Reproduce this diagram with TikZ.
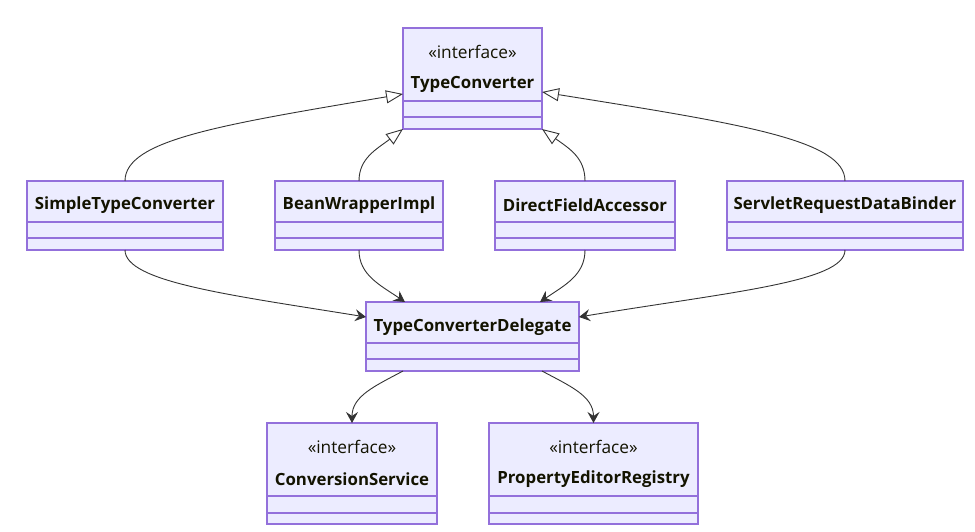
\documentclass[tikz,border=0pt]{standalone}
\usepackage{fontspec}
\setmainfont{Open Sans}
\usetikzlibrary{arrows.meta}
\definecolor{boxfill}{HTML}{ECECFF}
\definecolor{boxline}{HTML}{9370DB}
\definecolor{edgecol}{HTML}{333333}
\definecolor{txt}{HTML}{131300}
\begin{document}
\begin{tikzpicture}[x=1pt,y=-1pt,
  classbox/.style={draw=boxline,fill=boxfill,line width=1.2pt,inner sep=0pt,outer sep=0pt,rectangle},
  divider/.style={draw=boxline,line width=1.2pt},
  titletxt/.style={inner sep=0pt,text=txt,font=\fontsize{16.8}{18}\selectfont\bfseries},
  stereo/.style={inner sep=0pt,text=txt,font=\fontsize{17.3}{18}\selectfont},
  inherit/.style={draw=edgecol,line width=0.9pt,-{Triangle[open,length=17pt,width=13pt,fill=white]}},
  dep/.style={draw=edgecol,line width=0.9pt,-{Stealth[length=11pt,width=12pt,inset=4pt]}}
]
\useasboundingbox (0,0) rectangle (975,532);

% TypeConverter
\node[classbox,minimum width=139pt,minimum height=101pt] (tc) at (472.5,78.5) {};
\node[stereo] (tcs) at (472.5,52) {«interface»};
\node[titletxt] (tct) at (472.5,84) {TypeConverter};
\draw[divider] (403,101) -- (542,101);
\draw[divider] (403,117) -- (542,117);

% Row 2
\node[classbox,minimum width=196pt,minimum height=69pt] (stc) at (125,215.5) {};
\node[titletxt] (stct) at (125,205) {SimpleTypeConverter};
\draw[divider] (27,222) -- (223,222);
\draw[divider] (27,238) -- (223,238);

\node[classbox,minimum width=168pt,minimum height=69pt] (bwi) at (359,215.5) {};
\node[titletxt] (bwit) at (359,205) {BeanWrapperImpl};
\draw[divider] (275,222) -- (443,222);
\draw[divider] (275,238) -- (443,238);

\node[classbox,minimum width=180pt,minimum height=69pt] (dfa) at (585,215.5) {};
\node[titletxt] (dfat) at (585,205) {DirectFieldAccessor};
\draw[divider] (495,222) -- (675,222);
\draw[divider] (495,238) -- (675,238);

\node[classbox,minimum width=236pt,minimum height=69pt] (srdb) at (845,215.5) {};
\node[titletxt] (srdbt) at (845,205) {ServletRequestDataBinder};
\draw[divider] (727,222) -- (963,222);
\draw[divider] (727,238) -- (963,238);

% Delegate
\node[classbox,minimum width=213pt,minimum height=69pt] (del) at (472.5,336.5) {};
\node[titletxt] (delt) at (472.5,327) {TypeConverterDelegate};
\draw[divider] (366,343) -- (579,343);
\draw[divider] (366,359) -- (579,359);

% Bottom row
\node[classbox,minimum width=170pt,minimum height=101pt] (cs) at (352,473.5) {};
\node[stereo] (css) at (352,447) {«interface»};
\node[titletxt] (cst) at (352,479) {ConversionService};
\draw[divider] (267,496) -- (437,496);
\draw[divider] (267,513) -- (437,513);

\node[classbox,minimum width=209pt,minimum height=101pt] (per) at (593.5,473.5) {};
\node[stereo] (pers) at (593.5,447) {«interface»};
\node[titletxt] (pert) at (593.5,479) {PropertyEditorRegistry};
\draw[divider] (489,496) -- (698,496);
\draw[divider] (489,513) -- (698,513);

% Inheritance edges
\draw[inherit] (stc.north) .. controls +(0,-41) and +(-183,31) .. ([yshift=-15.5pt]tc.west);
\draw[inherit] (bwi.north) .. controls +(0,-23) and +(-26,20) .. (tc.south west);
\draw[inherit] (dfa.north) .. controls +(0,-23) and +(28,20) .. (tc.south east);
\draw[inherit] (srdb.north) .. controls +(0,-41) and +(200,32) .. ([yshift=-13.5pt]tc.east);

% Dependency edges
\draw[dep] (stc.south) .. controls +(0,32) and +(-136,-22) .. ([yshift=19.5pt]del.west);
\draw[dep] (bwi.south) .. controls +(0,25) and +(-25,-17) .. ([xshift=-67.5pt]del.north);
\draw[dep] (dfa.south) .. controls +(0,25) and +(25,-17) .. ([xshift=67.5pt]del.north);
\draw[dep] (srdb.south) .. controls +(0,32) and +(151,-25) .. ([yshift=19.5pt]del.east);
\draw[dep] ([xshift=-69.5pt]del.south) .. controls +(-28,15) and +(0,-27) .. (cs.north);
\draw[dep] ([xshift=69.5pt]del.south) .. controls +(28,15) and +(0,-27) .. (per.north);
\end{tikzpicture}
\end{document}
